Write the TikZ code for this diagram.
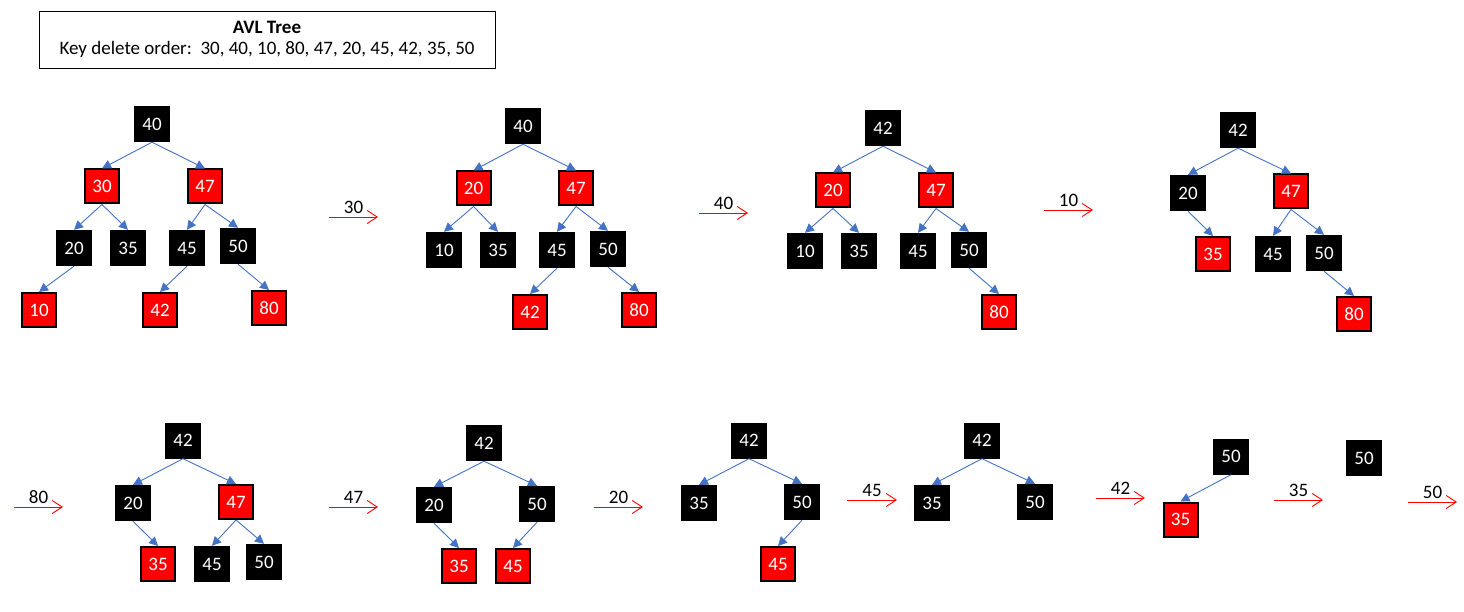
\documentclass[tikz,border=0pt]{standalone}
\usepackage{fontspec}
\setmainfont{Carlito}
\usetikzlibrary{arrows.meta}
\definecolor{linkblue}{HTML}{4472C4}

\begin{document}
\begin{tikzpicture}[x=1pt, y=-1pt, every node/.style={font=\fontsize{19}{21.5}\selectfont},
    blk/.style={fill=black, text=white, minimum size=36pt, inner sep=0pt},
    rd/.style={fill=red, draw=black, line width=2pt, text=white, minimum size=34pt, inner sep=0pt},
    link/.style={-{Triangle[length=9pt,width=9pt]}, linkblue, line width=0.9pt},
    del/.style={-{Straight Barb[length=10pt,width=13pt]}, red, line width=0.9pt},
    lbl/.style={midway, above, text=black, inner sep=3pt}]
    \useasboundingbox (0,0) rectangle (1464,612);
    \node[draw, line width=0.8pt, minimum width=456pt, minimum height=57pt, align=center] (title) at (267,39.5) {\textbf{AVL Tree}\hspace{0pt}\\Key delete order:\ \ 30, 40, 10, 80, 47, 20, 45, 42, 35, 50\hspace{13pt}};

    % tree 1
    \node[blk] (t1-40) at (152,124) {40};
    \node[rd] (t1-30) at (102,186.5) {30};
    \node[rd] (t1-47) at (205,186.5) {47};
    \node[blk] (t1-20) at (74,248) {20};
    \node[blk] (t1-35) at (128,248) {35};
    \node[blk] (t1-45) at (187,248) {45};
    \node[blk] (t1-50) at (238,246) {50};
    \node[rd] (t1-10) at (39,310) {10};
    \node[rd] (t1-42) at (160,310) {42};
    \node[rd] (t1-80) at (269,308) {80};
    \draw[link] (t1-40.south) -- (t1-30.north);
    \draw[link] (t1-40.south) -- (t1-47.north);
    \draw[link] (t1-30.south) -- (t1-20.north);
    \draw[link] (t1-30.south) -- (t1-35.north);
    \draw[link] (t1-47.south) -- (t1-45.north);
    \draw[link] (t1-47.south) -- (t1-50.north);
    \draw[link] (t1-20.south) -- (t1-10.north);
    \draw[link] (t1-45.south) -- (t1-42.north);
    \draw[link] (t1-50.south) -- (t1-80.north);

    \coordinate (d1a) at (329,217);
    \coordinate (d1b) at (378,217);
    \draw[del] (d1a) -- (d1b) node[lbl] {30};

    % tree 2
    \node[blk] (t2-40) at (523,126) {40};
    \node[rd] (t2-20) at (473.5,188.5) {20};
    \node[rd] (t2-47) at (576,188.5) {47};
    \node[blk] (t2-10) at (444,250) {10};
    \node[blk] (t2-35) at (498,250) {35};
    \node[blk] (t2-45) at (557,250) {45};
    \node[blk] (t2-50) at (608,249) {50};
    \node[rd] (t2-42) at (530,312) {42};
    \node[rd] (t2-80) at (639,310) {80};
    \draw[link] (t2-40.south) -- (t2-20.north);
    \draw[link] (t2-40.south) -- (t2-47.north);
    \draw[link] (t2-20.south) -- (t2-10.north);
    \draw[link] (t2-20.south) -- (t2-35.north);
    \draw[link] (t2-47.south) -- (t2-45.north);
    \draw[link] (t2-47.south) -- (t2-50.north);
    \draw[link] (t2-45.south) -- (t2-42.north);
    \draw[link] (t2-50.south) -- (t2-80.north);

    \coordinate (d2a) at (699,213);
    \coordinate (d2b) at (748,213);
    \draw[del] (d2a) -- (d2b) node[lbl] {40};

    % tree 3
    \node[blk] (t3-42) at (883,128) {42};
    \node[rd] (t3-20) at (833,190.5) {20};
    \node[rd] (t3-47) at (936,190.5) {47};
    \node[blk] (t3-10) at (805,251) {10};
    \node[blk] (t3-35) at (859,251) {35};
    \node[blk] (t3-45) at (918,251) {45};
    \node[blk] (t3-50) at (969,250) {50};
    \node[rd] (t3-80) at (999,312) {80};
    \draw[link] (t3-42.south) -- (t3-20.north);
    \draw[link] (t3-42.south) -- (t3-47.north);
    \draw[link] (t3-20.south) -- (t3-10.north);
    \draw[link] (t3-20.south) -- (t3-35.north);
    \draw[link] (t3-47.south) -- (t3-45.north);
    \draw[link] (t3-47.south) -- (t3-50.north);
    \draw[link] (t3-50.south) -- (t3-80.north);

    \coordinate (d3a) at (1044,210);
    \coordinate (d3b) at (1093,210);
    \draw[del] (d3a) -- (d3b) node[lbl] {10};

    % tree 4
    \node[blk] (t4-42) at (1238,130) {42};
    \node[blk] (t4-20) at (1188,193) {20};
    \node[rd] (t4-47) at (1291,191.5) {47};
    \node[rd] (t4-35) at (1213,254) {35};
    \node[blk] (t4-45) at (1273,254) {45};
    \node[blk] (t4-50) at (1324,253) {50};
    \node[rd] (t4-80) at (1354,314) {80};
    \draw[link] (t4-42.south) -- (t4-20.north);
    \draw[link] (t4-42.south) -- (t4-47.north);
    \draw[link] (t4-20.south) -- (t4-35.north);
    \draw[link] (t4-47.south) -- (t4-45.north);
    \draw[link] (t4-47.south) -- (t4-50.north);
    \draw[link] (t4-50.south) -- (t4-80.north);

    \coordinate (d4a) at (14,507);
    \coordinate (d4b) at (63,507);
    \draw[del] (d4a) -- (d4b) node[lbl] {80};

    % tree 5
    \node[blk] (t5-42) at (183,440.5) {42};
    \node[blk] (t5-20) at (133,503) {20};
    \node[rd] (t5-47) at (236,502) {47};
    \node[rd] (t5-35) at (158,564) {35};
    \node[blk] (t5-45) at (212,564) {45};
    \node[blk] (t5-50) at (264,562) {50};
    \draw[link] (t5-42.south) -- (t5-20.north);
    \draw[link] (t5-42.south) -- (t5-47.north);
    \draw[link] (t5-20.south) -- (t5-35.north);
    \draw[link] (t5-47.south) -- (t5-45.north);
    \draw[link] (t5-47.south) -- (t5-50.north);

    \coordinate (d5a) at (329,507);
    \coordinate (d5b) at (378,507);
    \draw[del] (d5a) -- (d5b) node[lbl] {47};

    % tree 6
    \node[blk] (t6-42) at (484,443) {42};
    \node[blk] (t6-20) at (434,505) {20};
    \node[blk] (t6-50) at (537,504) {50};
    \node[rd] (t6-35) at (459,566) {35};
    \node[rd] (t6-45) at (513,566) {45};
    \draw[link] (t6-42.south) -- (t6-20.north);
    \draw[link] (t6-42.south) -- (t6-50.north);
    \draw[link] (t6-20.south) -- (t6-35.north);
    \draw[link] (t6-50.south) -- (t6-45.north);

    \coordinate (d6a) at (594,507);
    \coordinate (d6b) at (643,507);
    \draw[del] (d6a) -- (d6b) node[lbl] {20};

    % tree 7
    \node[blk] (t7-42) at (749,440.5) {42};
    \node[blk] (t7-35) at (699,503) {35};
    \node[blk] (t7-50) at (802,502) {50};
    \node[rd] (t7-45) at (778,564) {45};
    \draw[link] (t7-42.south) -- (t7-35.north);
    \draw[link] (t7-42.south) -- (t7-50.north);
    \draw[link] (t7-50.south) -- (t7-45.north);

    \coordinate (d7a) at (847,500);
    \coordinate (d7b) at (897,500);
    \draw[del] (d7a) -- (d7b) node[lbl] {45};

    % tree 8
    \node[blk] (t8-42) at (982,440.5) {42};
    \node[blk] (t8-35) at (932,503) {35};
    \node[blk] (t8-50) at (1035,502) {50};
    \draw[link] (t8-42.south) -- (t8-35.north);
    \draw[link] (t8-42.south) -- (t8-50.north);

    \coordinate (d8a) at (1096,498);
    \coordinate (d8b) at (1145,498);
    \draw[del] (d8a) -- (d8b) node[lbl] {42};

    % tree 9
    \node[blk] (t9-50) at (1231,456.5) {50};
    \node[rd] (t9-35) at (1180.5,519.5) {35};
    \draw[link] (t9-50.south) -- (t9-35.north);

    \coordinate (d9a) at (1274,500);
    \coordinate (d9b) at (1323,500);
    \draw[del] (d9a) -- (d9b) node[lbl] {35};

    % tree 10
    \node[blk] (t10-50) at (1364,458) {50};

    \coordinate (d10a) at (1408,502);
    \coordinate (d10b) at (1457,502);
    \draw[del] (d10a) -- (d10b) node[lbl] {50};
\end{tikzpicture}
\end{document}
